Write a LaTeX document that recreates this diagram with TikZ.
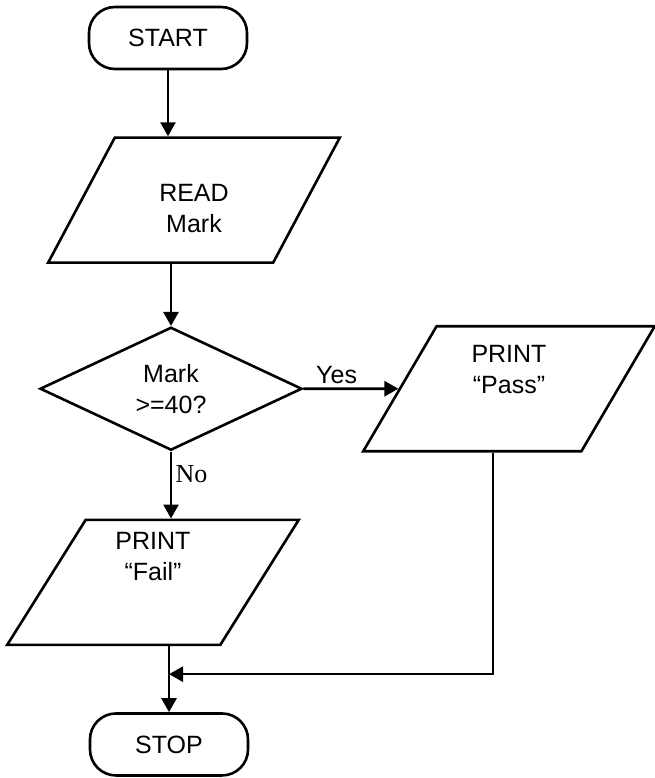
\documentclass[tikz,border=0pt]{standalone}
\usepackage{fontspec}
\setmainfont{Liberation Sans}
\newfontfamily\timesfont{Liberation Serif}
\usetikzlibrary{shapes.geometric, arrows.meta, positioning}

\begin{document}
\begin{tikzpicture}[font=\fontsize{25}{31}\selectfont, line width=2.6pt]
        \tikzstyle{terminal} = [rectangle, rounded corners=26pt, minimum width=158pt, minimum height=62pt, text centered, draw=black]
        \tikzstyle{io} = [trapezium, trapezium left angle=66, trapezium right angle=114, trapezium stretches=true, minimum width=292pt, minimum height=125pt, align=center, draw=black]
        \tikzstyle{decision} = [diamond, aspect=2.1, minimum width=262pt, minimum height=123pt, inner sep=0pt, align=center, draw=black]
        \tikzstyle{singlearrow} = [->, >={Triangle[length=14pt, width=15pt]}]

        \useasboundingbox (0,0) rectangle (655pt,-778pt);

        \node (start) [terminal] at (168pt,-38pt) {START};
        \node (read) [io, text height=65pt, below=66pt of start, xshift=26pt] {READ\\Mark};
        \node (check) [decision, below=62pt of read, xshift=-23pt] {Mark\\>=40?};
        \node (pass) [io, text depth=38pt, right of=check, node distance=338pt] {PRINT\\“Pass”};
        \node (fail) [io, text depth=52pt, below=67pt of check, xshift=-18pt] {PRINT\\“Fail”};
        \node (stop) [terminal, below=66pt of fail, xshift=16pt] {STOP};
        \coordinate [above=38pt of stop.north] (join);

        \draw[singlearrow] (start.south) -- (start.south |- read.north);
        \draw[singlearrow] (read.south -| check.north) -- (check.north);
        \draw[singlearrow] (check) -- node[above, pos=0.35] {Yes} (pass);
        \draw[singlearrow] (check.south) -- node[right, pos=0.33, font=\fontsize{26}{30}\timesfont] {No} (check.south |- fail.north);
        \draw[singlearrow] (fail.south -| stop.north) -- (stop.north);
        \draw[singlearrow] ([xshift=-16pt]pass.south) |- (join);

    \end{tikzpicture}
\end{document}
